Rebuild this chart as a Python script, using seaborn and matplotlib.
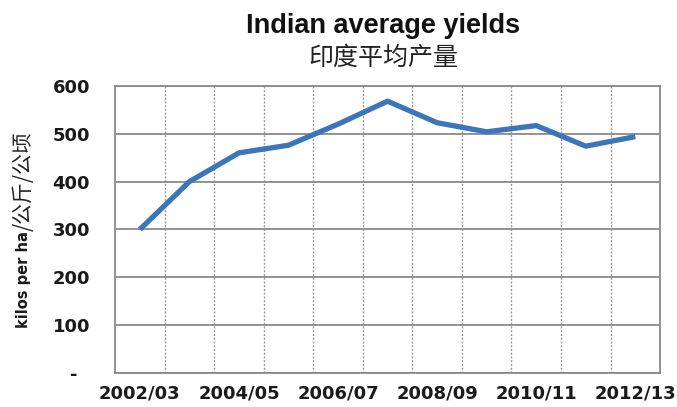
import numpy as np
import pandas as pd
import matplotlib
matplotlib.use("Agg")
import matplotlib.pyplot as plt
import seaborn as sns

seasons = ["2002/03", "2003/04", "2004/05", "2005/06", "2006/07", "2007/08",
           "2008/09", "2009/10", "2010/11", "2011/12", "2012/13"]
yields = [300, 400, 460, 476, 520, 568, 523, 504, 517, 474, 494]
y_ticks = [0, 100, 200, 300, 400, 500, 600]
y_tick_labels = ["-  ", "100", "200", "300", "400", "500", "600"]

df = pd.DataFrame({"season": seasons, "yield": yields})
df["pos"] = np.arange(len(df))

sns.set_theme(style="white")
plt.rcParams["font.family"] = ["DejaVu Sans", "Noto Sans CJK SC"]

fig = plt.figure(figsize=(6.77, 4.07), dpi=100)
ax = fig.add_axes([0.170, 0.0835, 0.805, 0.7055])

sns.lineplot(x="pos", y="yield", data=df, ax=ax, color="#3D75BD",
             linewidth=3.8, solid_joinstyle="round", solid_capstyle="butt")

ax.set_xlim(-0.5, len(seasons) - 0.5)
ax.set_ylim(0, 600)

# labels every other season
ax.set_xticks(df["pos"][::2])
ax.set_xticklabels(df["season"][::2], fontsize=13, fontweight="bold", color="#1a1a1a")
ax.set_xticks(np.arange(0.5, len(seasons) - 0.5, 1), minor=True)
ax.set_yticks(y_ticks)
ax.set_yticklabels(y_tick_labels, fontsize=13, fontweight="bold", color="#1a1a1a")
ax.tick_params(axis="both", which="both", length=0)
ax.tick_params(axis="y", pad=18)
ax.tick_params(axis="x", pad=8)

ax.grid(False)
ax.yaxis.grid(True, which="major", color="#8a8a8a", linewidth=1.3, linestyle="-")
ax.xaxis.grid(True, which="minor", color="#9a9a9a", linewidth=1.0, linestyle=(0, (1.5, 1.2)))
ax.set_axisbelow(True)
for s in ax.spines.values():
    s.set_color("#8a8a8a")
    s.set_linewidth(1.3)

ax.set_xlabel("")
ax.set_ylabel("")

fig.text(0.566, 0.935, "Indian average yields", ha="center", va="center",
         fontsize=19.5, fontweight="heavy",
         family=["Liberation Sans Narrow", "Liberation Sans"], color="#111111")
fig.text(0.566, 0.858, "印度平均产量", ha="center", va="center",
         fontsize=18, family=["Noto Sans CJK SC"], fontweight="light", color="#222222")

# y label: latin bold part + thin chinese part
t1 = fig.text(0.034 * 677, 407 - 328, "kilos per ha", rotation=90, ha="center", va="bottom",
              fontsize=10.5, fontweight="bold", color="#1a1a1a", transform=None)
fig.canvas.draw()
bb = t1.get_window_extent()
fig.text(0.034 * 677 + 1, bb.y1, "/公斤/公顷", rotation=90, ha="center", va="bottom",
         fontsize=15, family=["Noto Sans CJK SC"], fontweight="light",
         color="#222222", transform=None)

fig.savefig("out.png", dpi=100)
